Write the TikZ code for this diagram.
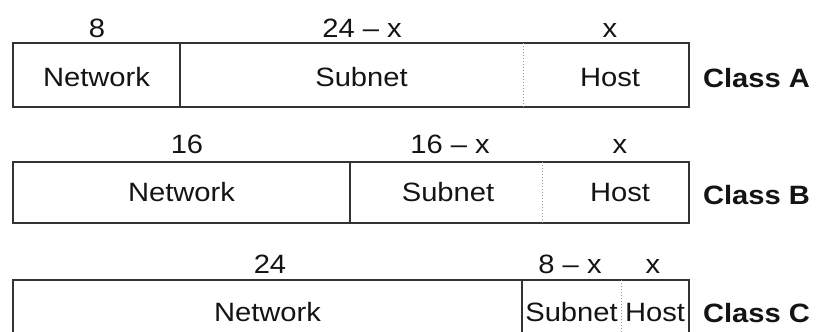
\documentclass[tikz,border=0pt]{standalone}
\usepackage{fontspec}
\setmainfont{Liberation Sans}[FakeStretch=1.1]
\begin{document}
\begin{tikzpicture}[x=1pt,y=-1pt,
  every node/.style={inner sep=0pt, outer sep=0pt, text=black!92},
  cell/.style={minimum height=#1},
  fieldtext/.style={font=\fontsize{26.5}{29}\selectfont},
  bits/.style={anchor=base, font=\fontsize{26.5}{29}\selectfont},
  classname/.style={anchor=base west, font=\fontsize{26.5}{29}\selectfont\bfseries},
  boxline/.style={draw=black!80, line width=1.6pt},
  netsep/.style={draw=black!80, line width=1.4pt},
  hostsep/.style={draw=black!40, line width=1pt, dotted}]
\useasboundingbox (0,0) rectangle (830,332);
\clip (0,0) rectangle (830,332);

% Class A: 8 | 24-x | x
\node[cell=64pt, minimum width=167pt] (aN) at (96.5,75) {};
\node[cell=64pt, minimum width=343pt] (aS) at (351.5,75) {};
\node[cell=64pt, minimum width=166pt] (aH) at (606,75) {};
\draw[boxline] (aN.north west) rectangle (aH.south east);
\draw[netsep] (aN.north east) -- (aN.south east);
\draw[hostsep] (aS.north east) -- (aS.south east);
\node[fieldtext] (aNt) at ([yshift=-2.5pt]aN.center) {Network};
\node[fieldtext] (aSt) at ([xshift=10pt,yshift=-2.5pt]aS.center) {Subnet};
\node[fieldtext] (aHt) at ([xshift=4pt,yshift=-2.5pt]aH.center) {Host};
\node[bits] (aNb) at (97,37) {8};
\node[bits] (aSb) at (362,37) {24 \textendash{} x};
\node[bits] (aHb) at (610,37) {x};
\node[classname] (aC) at (703,87) {Class A};

% Class B: 16 | 16-x | x
\node[cell=61pt, minimum width=337pt] (bN) at (181.5,192.5) {};
\node[cell=61pt, minimum width=192pt] (bS) at (446,192.5) {};
\node[cell=61pt, minimum width=147pt] (bH) at (615.5,192.5) {};
\draw[boxline] (bN.north west) rectangle (bH.south east);
\draw[netsep] (bN.north east) -- (bN.south east);
\draw[hostsep] (bS.north east) -- (bS.south east);
\node[fieldtext] (bNt) at (bN.center) {Network};
\node[fieldtext] (bSt) at ([xshift=2pt]bS.center) {Subnet};
\node[fieldtext] (bHt) at ([xshift=4.5pt]bH.center) {Host};
\node[bits] (bNb) at (187,153) {16};
\node[bits] (bSb) at (450,153) {16 \textendash{} x};
\node[bits] (bHb) at (620,153) {x};
\node[classname] (bC) at (703,204) {Class B};

% Class C: 24 | 8-x | x
\node[cell=65pt, minimum width=509pt] (cN) at (267.5,312.5) {};
\node[cell=65pt, minimum width=99pt] (cS) at (571.5,312.5) {};
\node[cell=65pt, minimum width=68pt] (cH) at (655,312.5) {};
\draw[boxline] (cN.north west) rectangle (cH.south east);
\draw[netsep] (cN.north east) -- (cN.south east);
\draw[hostsep] (cS.north east) -- (cS.south east);
\node[fieldtext] (cNt) at (cN.center) {Network};
\node[fieldtext] (cSt) at (cS.center) {Subnet};
\node[fieldtext] (cHt) at (cH.center) {Host};
\node[bits] (cNb) at (270,273) {24};
\node[bits] (cSb) at (570,273) {8 \textendash{} x};
\node[bits] (cHb) at (653,273) {x};
\node[classname] (cC) at (703,322) {Class C};
\end{tikzpicture}
\end{document}
